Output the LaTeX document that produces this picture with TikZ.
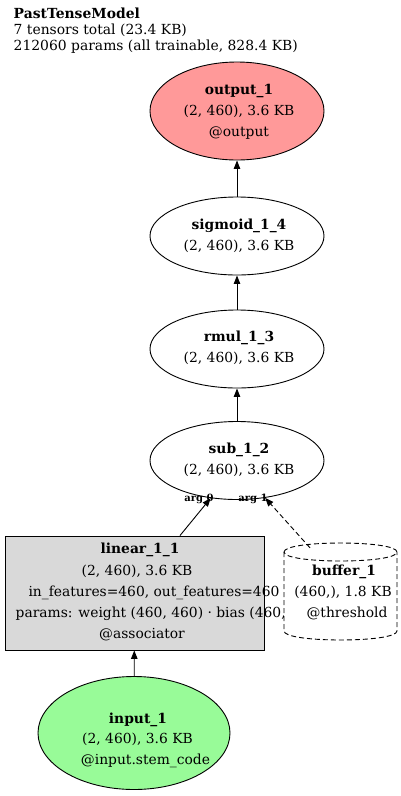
\documentclass[tikz,border=0pt]{standalone}
\usepackage{fontspec}
\setmainfont{DejaVu Serif}
\usetikzlibrary{shapes.geometric,arrows.meta}
\definecolor{outfill}{HTML}{FF9999}
\definecolor{infill}{HTML}{98FB98}
\definecolor{linfill}{HTML}{D9D9D9}
\begin{document}
\begin{tikzpicture}[x=1pt,y=-1pt,
  ell/.style={draw, ellipse, inner sep=0pt, line width=0.9pt, minimum width=174pt, minimum height=78pt},
  txt/.style={align=center, inner sep=0pt, font=\fontsize{13.85}{20.8}\selectfont},
  ln/.style={anchor=base, inner sep=0pt, font=\fontsize{13.85}{16}\selectfont},
  ttl/.style={anchor=base west, inner sep=0pt, font=\fontsize{13.9}{16}\selectfont},
  arr/.style={-{Triangle[length=8.5pt,width=6.5pt]}, line width=0.9pt},
  argl/.style={inner sep=0pt, font=\fontsize{10}{11}\selectfont\bfseries},
  dsh/.style={dash pattern=on 5pt off 3pt}]
\useasboundingbox (0,0) rectangle (400,796);

% title
\node[ttl] (t1) at (13.5,18.3) {\textbf{PastTenseModel}};
\node[ttl] (t2) at (13.5,34.3) {7 tensors total (23.4 KB)};
\node[ttl] (t3) at (13.5,50) {212060 params (all trainable, 828.4 KB)};

% ellipses
\node[ell, fill=outfill, minimum height=98pt] (out) at (237,111) {};
\node[txt] (outt) at (239,112) {\textbf{output\_1}\\(2, 460), 3.6 KB\\@output};

\node[ell] (sig) at (237,236) {};
\node[txt] (sigt) at (239,236) {\textbf{sigmoid\_1\_4}\\(2, 460), 3.6 KB};

\node[ell] (rmul) at (237,349) {};
\node[txt] (rmult) at (239,348) {\textbf{rmul\_1\_3}\\(2, 460), 3.6 KB};

\node[ell] (sub) at (237,460.5) {};
\node[txt] (subt) at (239,460) {\textbf{sub\_1\_2}\\(2, 460), 3.6 KB};

% linear box
\node[draw, fill=linfill, line width=0.9pt, minimum width=259pt, minimum height=114pt, inner sep=0pt] (lin) at (134.5,593) {};
\node[ln] (l1) at (140,553.5) {\textbf{linear\_1\_1}};
\node[ln] (l2) at (137,575) {(2, 460), 3.6 KB};
\node[ln] (l3) at (154,596.5) {in\_features=460, out\_features=460};
\node[ln, anchor=base west] (l4) at (15.5,617.5) {params: weight (460, 460) · bias (460,)};
\node[ln] (l5) at (142,638.5) {@associator};

% buffer cylinder
\node[inner sep=0pt, minimum width=113pt, minimum height=97pt] (buf) at (340.5,591.5) {};
\fill[white] (284,552) -- (284,631) .. controls (284,643) and (397,643) .. (397,631) -- (397,552) .. controls (397,540) and (284,540) .. cycle;
\draw[dsh, line width=0.9pt] (284,552) -- (284,631) .. controls (284,643) and (397,643) .. (397,631) -- (397,552);
\draw[dsh, line width=0.9pt] (284,552) .. controls (284,540) and (397,540) .. (397,552) .. controls (397,564) and (284,564) .. (284,552);
\node[ln] (b1) at (344,575) {\textbf{buffer\_1}};
\node[ln] (b2) at (343,596.5) {(460,), 1.8 KB};
\node[ln] (b3) at (347,617.5) {@threshold};

% input
\node[ell, fill=infill, minimum width=192pt, minimum height=113pt] (in) at (134,733) {};
\node[ln] (i1) at (138,723) {\textbf{input\_1}};
\node[ln] (i2) at (137.5,743.5) {(2, 460), 3.6 KB};
\node[ln] (i3) at (145.5,764) {@input.stem\_code};

% edges
\draw[arr] (sig) -- (out);
\draw[arr] (rmul) -- (sig);
\draw[arr] (sub) -- (rmul);
\draw[arr] ([xshift=45.5pt]lin.north) -- (sub.235);
\draw[arr, dsh] ([xshift=-30.5pt,yshift=-5pt]buf.north) -- (sub.307);
\draw[arr] (in) -- (lin);
\node[argl] (a0) at (199,499) {arg 0};
\node[argl] (a1) at (253,499) {arg 1};
\end{tikzpicture}
\end{document}
